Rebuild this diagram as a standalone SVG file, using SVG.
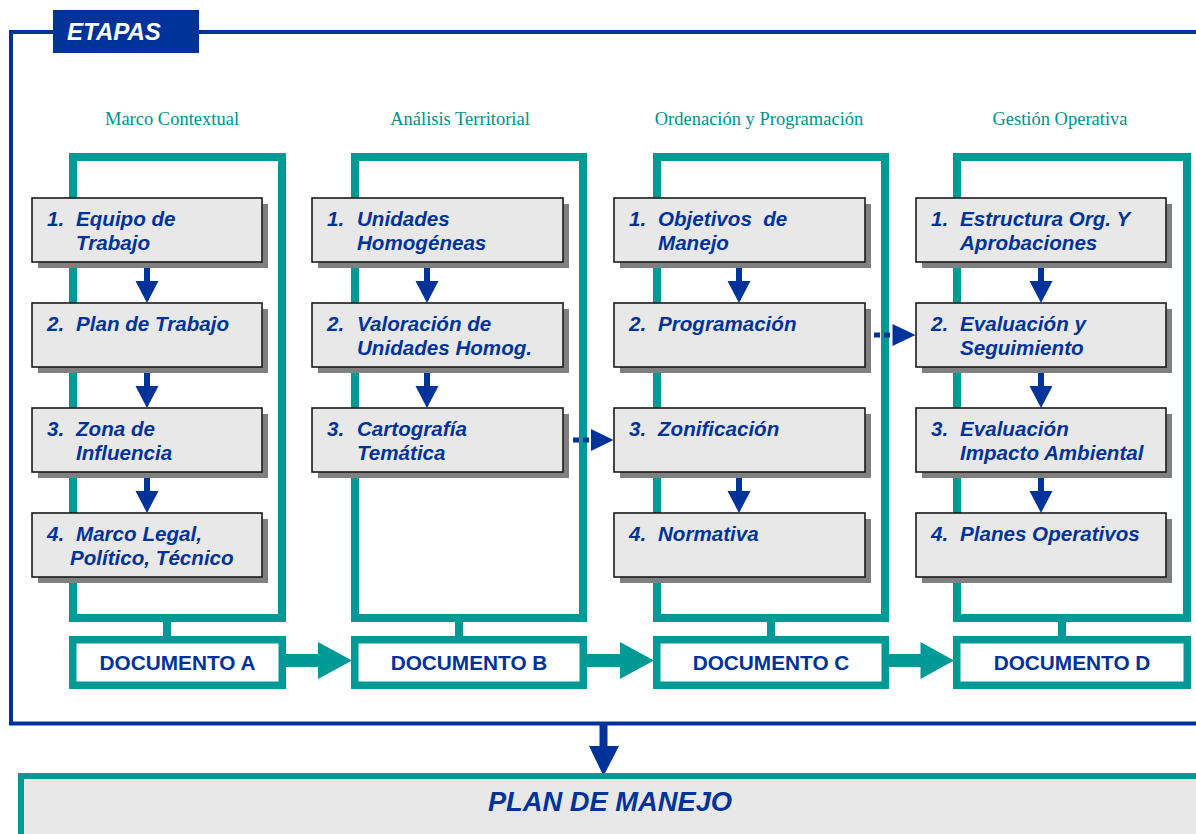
<svg xmlns="http://www.w3.org/2000/svg" width="1196" height="834" viewBox="0 0 1196 834">
<style>
.frame{fill:none;stroke:#009a96;stroke-width:8}
.doc{fill:#ffffff;stroke:#009a96;stroke-width:7.5}
.teal{fill:#009a96}
.blue{fill:#003399}
.head{font-family:"Liberation Serif","Times New Roman",serif;font-size:18.5px;fill:#00918a;text-anchor:middle}
.box{fill:#e8e8e8;stroke:#1a1a1a;stroke-width:1.6}
.shadow{fill:#808080}
.bt{font-family:"Liberation Sans",Arial,sans-serif;font-size:20.6px;font-weight:bold;font-style:italic;fill:#003399;white-space:pre}
.dt{font-family:"Liberation Sans",Arial,sans-serif;font-size:20.8px;font-weight:bold;fill:#003399;text-anchor:middle}
.dash{stroke:#003399;stroke-width:5;stroke-dasharray:6 4;fill:none}
</style>
<rect width="1196" height="834" fill="#ffffff"/>

<g id="etapas">
<rect x="11" y="32" width="1200" height="691.5" fill="none" stroke="#003399" stroke-width="4"/>
<rect x="53" y="10" width="146" height="43" fill="#003399"/>
<text x="67" y="40" font-family="Liberation Sans,Arial,sans-serif" font-size="24" font-weight="bold" font-style="italic" fill="#ffffff">ETAPAS</text>
</g>

<g id="headings">
<text class="head" x="172" y="125">Marco Contextual</text>
<text class="head" x="460" y="125">Análisis Territorial</text>
<text class="head" x="759" y="125">Ordenación y Programación</text>
<text class="head" x="1060" y="125">Gestión Operativa</text>
</g>

<g id="columns">
<rect class="frame" x="73" y="157" width="209" height="461"/>
<rect class="frame" x="355" y="157" width="228" height="461"/>
<rect class="frame" x="657" y="157" width="228" height="461"/>
<rect class="frame" x="957" y="157" width="230" height="461"/>
</g>

<g id="connectors">
<rect class="teal" x="163" y="620" width="8" height="18"/>
<rect class="teal" x="455" y="620" width="8" height="18"/>
<rect class="teal" x="767" y="620" width="8" height="18"/>
<rect class="teal" x="1058" y="620" width="8" height="18"/>
<rect class="teal" x="285" y="654" width="35" height="13"/>
<polygon class="teal" points="318,642 318,679 352,660.5"/>
<rect class="teal" x="586" y="654" width="36" height="13"/>
<polygon class="teal" points="620,642 620,679 654,660.5"/>
<rect class="teal" x="888" y="654" width="34" height="13"/>
<polygon class="teal" points="920.5,642 920.5,679 954,660.5"/>
<g class="blue">
<rect x="144" y="262" width="6" height="20"/><polygon points="135.5,281 158.5,281 147,303"/>
<rect x="144" y="367" width="6" height="20"/><polygon points="135.5,386 158.5,386 147,408"/>
<rect x="144" y="472" width="6" height="20"/><polygon points="135.5,491 158.5,491 147,513"/>
<rect x="424" y="262" width="6" height="20"/><polygon points="415.5,281 438.5,281 427,303"/>
<rect x="424" y="367" width="6" height="20"/><polygon points="415.5,386 438.5,386 427,408"/>
<rect x="736" y="262" width="6" height="20"/><polygon points="727.5,281 750.5,281 739,303"/>
<rect x="736" y="472" width="6" height="20"/><polygon points="727.5,491 750.5,491 739,513"/>
<rect x="1038" y="262" width="6" height="20"/><polygon points="1029.5,281 1052.5,281 1041,303"/>
<rect x="1038" y="367" width="6" height="20"/><polygon points="1029.5,386 1052.5,386 1041,408"/>
<rect x="1038" y="472" width="6" height="20"/><polygon points="1029.5,491 1052.5,491 1041,513"/>
<rect x="599.5" y="724" width="8" height="24"/><polygon points="589,746 619,746 603.5,776"/>
<polygon points="591,429 591,451 613.5,440"/>
<polygon points="892.5,324 892.5,346 915.5,335"/>
</g>
<line class="dash" x1="563" y1="440" x2="592" y2="440"/>
<line class="dash" x1="864" y1="335" x2="893" y2="335"/>
</g>

<g id="col-a">
<g id="a1"><rect class="shadow" x="38" y="204" width="230" height="64"/><rect class="box" x="32" y="198" width="230" height="64"/>
<text class="bt" x="47" y="226">1.</text><text class="bt" x="76" y="226">Equipo de</text><text class="bt" x="76" y="250">Trabajo</text></g>
<g id="a2"><rect class="shadow" x="38" y="309" width="230" height="64"/><rect class="box" x="32" y="303" width="230" height="64"/>
<text class="bt" x="47" y="331">2.</text><text class="bt" x="76" y="331">Plan de Trabajo</text></g>
<g id="a3"><rect class="shadow" x="38" y="414" width="230" height="64"/><rect class="box" x="32" y="408" width="230" height="64"/>
<text class="bt" x="47" y="436">3.</text><text class="bt" x="76" y="436">Zona de</text><text class="bt" x="76" y="460">Influencia</text></g>
<g id="a4"><rect class="shadow" x="38" y="519" width="230" height="64"/><rect class="box" x="32" y="513" width="230" height="64"/>
<text class="bt" x="47" y="541">4.</text><text class="bt" x="76" y="541">Marco Legal,</text><text class="bt" x="70" y="565">Político, Técnico</text></g>
</g>

<g id="col-b">
<g id="b1"><rect class="shadow" x="318" y="204" width="251" height="64"/><rect class="box" x="312" y="198" width="251" height="64"/>
<text class="bt" x="327" y="226">1.</text><text class="bt" x="357" y="226">Unidades</text><text class="bt" x="357" y="250">Homogéneas</text></g>
<g id="b2"><rect class="shadow" x="318" y="309" width="251" height="64"/><rect class="box" x="312" y="303" width="251" height="64"/>
<text class="bt" x="327" y="331">2.</text><text class="bt" x="357" y="331">Valoración de</text><text class="bt" x="357" y="355">Unidades Homog.</text></g>
<g id="b3"><rect class="shadow" x="318" y="414" width="251" height="64"/><rect class="box" x="312" y="408" width="251" height="64"/>
<text class="bt" x="327" y="436">3.</text><text class="bt" x="357" y="436">Cartografía</text><text class="bt" x="357" y="460">Temática</text></g>
</g>

<g id="col-c">
<g id="c1"><rect class="shadow" x="620" y="204" width="251" height="64"/><rect class="box" x="614" y="198" width="251" height="64"/>
<text class="bt" x="629" y="226">1.</text><text class="bt" x="658" y="226">Objetivos  de</text><text class="bt" x="658" y="250">Manejo</text></g>
<g id="c2"><rect class="shadow" x="620" y="309" width="251" height="64"/><rect class="box" x="614" y="303" width="251" height="64"/>
<text class="bt" x="629" y="331">2.</text><text class="bt" x="658" y="331">Programación</text></g>
<g id="c3"><rect class="shadow" x="620" y="414" width="251" height="64"/><rect class="box" x="614" y="408" width="251" height="64"/>
<text class="bt" x="629" y="436">3.</text><text class="bt" x="658" y="436">Zonificación</text></g>
<g id="c4"><rect class="shadow" x="620" y="519" width="251" height="64"/><rect class="box" x="614" y="513" width="251" height="64"/>
<text class="bt" x="629" y="541">4.</text><text class="bt" x="658" y="541">Normativa</text></g>
</g>

<g id="col-d">
<g id="d1"><rect class="shadow" x="922" y="204" width="250" height="64"/><rect class="box" x="916" y="198" width="250" height="64"/>
<text class="bt" x="931" y="226">1.</text><text class="bt" x="960" y="226">Estructura Org. Y</text><text class="bt" x="960" y="250">Aprobaciones</text></g>
<g id="d2"><rect class="shadow" x="922" y="309" width="250" height="64"/><rect class="box" x="916" y="303" width="250" height="64"/>
<text class="bt" x="931" y="331">2.</text><text class="bt" x="960" y="331">Evaluación y</text><text class="bt" x="960" y="355">Seguimiento</text></g>
<g id="d3"><rect class="shadow" x="922" y="414" width="250" height="64"/><rect class="box" x="916" y="408" width="250" height="64"/>
<text class="bt" x="931" y="436">3.</text><text class="bt" x="960" y="436">Evaluación</text><text class="bt" x="960" y="460">Impacto Ambiental</text></g>
<g id="d4"><rect class="shadow" x="922" y="519" width="250" height="64"/><rect class="box" x="916" y="513" width="250" height="64"/>
<text class="bt" x="931" y="541">4.</text><text class="bt" x="960" y="541">Planes Operativos</text></g>
</g>

<g id="documents">
<g id="doc-a"><rect class="doc" x="72.75" y="639.75" width="209.5" height="45.5"/><text class="dt" x="177.5" y="670">DOCUMENTO A</text></g>
<g id="doc-b"><rect class="doc" x="354.75" y="639.75" width="228.5" height="45.5"/><text class="dt" x="469" y="670">DOCUMENTO B</text></g>
<g id="doc-c"><rect class="doc" x="656.75" y="639.75" width="228.5" height="45.5"/><text class="dt" x="771" y="670">DOCUMENTO C</text></g>
<g id="doc-d"><rect class="doc" x="956.75" y="639.75" width="230.5" height="45.5"/><text class="dt" x="1072" y="670">DOCUMENTO D</text></g>
</g>

<g id="plan">
<rect x="21" y="776" width="1200" height="100" fill="#e8e8e8" stroke="#009a96" stroke-width="6"/>
<text x="610" y="811" text-anchor="middle" font-family="Liberation Sans,Arial,sans-serif" font-size="27.3" font-weight="bold" font-style="italic" fill="#003399">PLAN DE MANEJO</text>
</g>
</svg>
